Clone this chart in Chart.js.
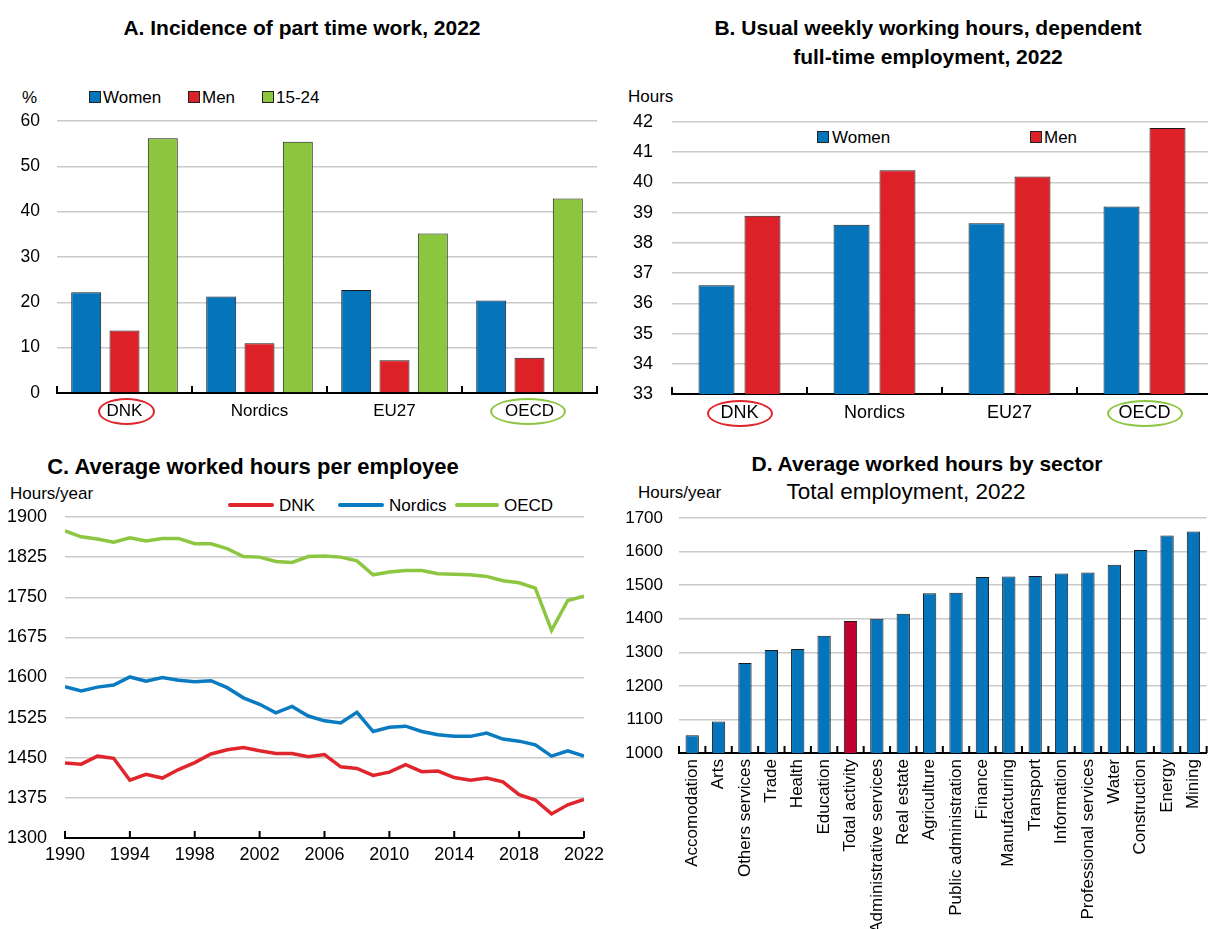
<!DOCTYPE html>
<html>
<head>
<meta charset="utf-8">
<script src="https://cdn.jsdelivr.net/npm/chart.js@4.4.1/dist/chart.umd.min.js"></script>
<style>
html, body { margin:0; padding:0; background:#fff; width:1208px; height:929px; overflow:hidden; }
body { position:relative; font-family:"Liberation Sans", Arial, sans-serif; color:#000; }
canvas { position:absolute; }
.t { position:absolute; white-space:nowrap; line-height:1; }
.c { transform:translate(-50%,-50%); }
.m { transform:translateY(-50%); }
.titulo { font-weight:bold; font-size:21px; }
.unidad { font-size:17px; }
.ley { font-size:17px; }
.cuadro { position:absolute; width:10px; height:10px; border:1px solid #222; }
.linea { position:absolute; height:4px; border-radius:2px; }
.elipse { position:absolute; border-radius:50%; border:2.5px solid; box-sizing:border-box; }
</style>
</head>
<body>

<!-- textos panel A -->
<div class="t c titulo" style="left:302px; top:27px;">A. Incidence of part time work, 2022</div>
<div class="t m unidad" style="left:22px; top:97px;">%</div>
<div class="cuadro" style="left:89px; top:91px; background:#0474bb;"></div>
<div class="t m ley" style="left:103px; top:97px;">Women</div>
<div class="cuadro" style="left:188px; top:91px; background:#dd2129;"></div>
<div class="t m ley" style="left:202px; top:97px;">Men</div>
<div class="cuadro" style="left:262px; top:91px; background:#8cc63f;"></div>
<div class="t m ley" style="left:276px; top:97px;">15-24</div>
<div class="elipse" style="left:98px; top:398px; width:57px; height:27px; border-color:#e0262d;"></div>
<div class="elipse" style="left:490px; top:398px; width:76px; height:27px; border-color:#8dc641;"></div>

<!-- textos panel B -->
<div class="t c titulo" style="left:928px; top:27px;">B. Usual weekly working hours, dependent</div>
<div class="t c titulo" style="left:928px; top:56px;">full-time employment, 2022</div>
<div class="t m unidad" style="left:628px; top:96px;">Hours</div>
<div class="cuadro" style="left:817px; top:131px; background:#0474bb;"></div>
<div class="t m ley" style="left:832px; top:137px;">Women</div>
<div class="cuadro" style="left:1030px; top:131px; background:#dd2129;"></div>
<div class="t m ley" style="left:1044px; top:137px;">Men</div>
<div class="elipse" style="left:707px; top:400px; width:66px; height:27px; border-color:#e0262d;"></div>
<div class="elipse" style="left:1107px; top:400px; width:76px; height:27px; border-color:#8dc641;"></div>

<!-- textos panel C -->
<div class="t c titulo" style="left:253px; top:467px; font-size:22px;">C. Average worked hours per employee</div>
<div class="t m unidad" style="left:10px; top:493px;">Hours/year</div>
<div class="linea" style="left:228px; top:503px; width:46px; background:#e0262d;"></div>
<div class="t m ley" style="left:279px; top:505px;">DNK</div>
<div class="linea" style="left:338px; top:503px; width:46px; background:#0a7bc1;"></div>
<div class="t m ley" style="left:389px; top:505px;">Nordics</div>
<div class="linea" style="left:455px; top:503px; width:44px; background:#8dc641;"></div>
<div class="t m ley" style="left:504px; top:505px;">OECD</div>

<!-- textos panel D -->
<div class="t c titulo" style="left:927px; top:463px;">D. Average worked hours by sector</div>
<div class="t c" style="left:906px; top:492px; font-size:22.5px;">Total employment, 2022</div>
<div class="t m unidad" style="left:638px; top:492px;">Hours/year</div>

<canvas id="gA" width="600" height="350" style="left:0; top:80px;"></canvas>
<canvas id="gB" width="620" height="350" style="left:600px; top:80px;"></canvas>
<canvas id="gC" width="610" height="400" style="left:0; top:480px;"></canvas>
<canvas id="gD" width="620" height="449" style="left:600px; top:480px;"></canvas>

<script>
// DATOS
const paises = ['DNK', 'Nordics', 'EU27', 'OECD'];
const parcialMujeres = [22.2, 21.3, 22.7, 20.4];
const parcialHombres = [13.8, 11.0, 7.2, 7.8];
const parcialJovenes = [56.2, 55.4, 35.2, 42.9];

const horasMujeres = [36.6, 38.6, 38.65, 39.2];
const horasHombres = [38.9, 40.4, 40.2, 41.8];

const anios = [1990,1991,1992,1993,1994,1995,1996,1997,1998,1999,2000,2001,2002,2003,2004,2005,2006,
               2007,2008,2009,2010,2011,2012,2013,2014,2015,2016,2017,2018,2019,2020,2021,2022];
const horasDNK = [1440,1438,1453,1449,1408,1419,1412,1428,1441,1457,1465,1469,1463,1458,1458,1452,1456,
                  1433,1430,1417,1423,1437,1424,1425,1413,1408,1412,1405,1381,1371,1345,1362,1372];
const horasNordicos = [1583,1575,1582,1586,1601,1593,1600,1595,1592,1594,1581,1562,1550,1534,1546,1528,1519,
                       1515,1535,1499,1507,1509,1499,1493,1490,1490,1496,1485,1481,1474,1453,1463,1453];
const horasOCDE = [1874,1863,1859,1853,1861,1855,1860,1860,1850,1850,1841,1826,1825,1817,1815,1826,1827,
                   1825,1818,1792,1797,1800,1800,1794,1793,1792,1789,1781,1777,1767,1688,1744,1752];

const sectores = ['Accomodation','Arts','Others services','Trade','Health','Education','Total activity',
                  'Administrative services','Real estate','Agriculture','Public administration','Finance',
                  'Manufacturing','Transport','Information','Professional services','Water','Construction',
                  'Energy','Mining'];
const horasSector = [1053,1094,1268,1307,1310,1349,1393,1400,1415,1476,1477,1524,1526,1527,1535,1538,1561,
                     1605,1648,1660];

const azul = '#0474bb', rojo = '#dd2129', verde = '#8cc63f', rojoOscuro = '#c0002d';
const lineaRoja = '#e0262d', lineaAzul = '#0a7bc1', lineaVerde = '#8dc641';
const gris = '#cacaca';

Chart.defaults.font.family = '"Liberation Sans", Arial, sans-serif';
Chart.defaults.color = '#000';
Chart.defaults.animation = false;
Chart.defaults.responsive = false;
Chart.defaults.plugins.legend.display = false;
Chart.defaults.plugins.tooltip.enabled = false;

// ticks pequeños hacia arriba sobre el eje x
const ticksAdentro = {
    id: 'ticksAdentro',
    afterDraw(chart) {
        const x = chart.scales.x, ctx = chart.ctx, y0 = chart.chartArea.bottom;
        let pos = [];
        if (x.type === 'category') {
            const n = x.getLabels().length, w = (x.right - x.left) / n;
            for (let i = 0; i <= n; i++) pos.push(x.left + i * w);
        } else {
            x.ticks.forEach(t => pos.push(x.getPixelForValue(t.value)));
        }
        ctx.save();
        ctx.strokeStyle = '#000'; ctx.lineWidth = 2;
        pos.forEach(p => { ctx.beginPath(); ctx.moveTo(p, y0); ctx.lineTo(p, y0 - 7); ctx.stroke(); });
        ctx.restore();
    }
};

function escalaY(min, max, paso, ancho, pad, tam) {
    return {
        min: min, max: max,
        afterFit: s => { s.width = ancho; },
        border: { display: false },
        grid: { color: gris, lineWidth: 1.5, drawTicks: false },
        ticks: { stepSize: paso, padding: pad, font: { size: tam }, callback: v => String(v) }
    };
}

function escalaX(alto, pad, tam, extra) {
    return Object.assign({
        afterFit: s => { s.height = alto; },
        border: { display: true, color: '#000', width: 2 },
        grid: { display: false, drawTicks: false, tickLength: 0 },
        ticks: { padding: pad, font: { size: tam }, autoSkip: false, maxRotation: 0 }
    }, extra || {});
}

const borde = { borderColor: '#1a1a1a', borderWidth: 1 };

// A
new Chart(document.getElementById('gA'), {
    type: 'bar',
    data: { labels: paises, datasets: [
        Object.assign({ label: 'Women', data: parcialMujeres, backgroundColor: azul }, borde),
        Object.assign({ label: 'Men', data: parcialHombres, backgroundColor: rojo }, borde),
        Object.assign({ label: '15-24', data: parcialJovenes, backgroundColor: verde }, borde)
    ]},
    options: {
        layout: { padding: { left: 0, right: 3, top: 41, bottom: 0 } },
        datasets: { bar: { categoryPercentage: 0.851, barPercentage: 0.783 } },
        scales: { x: escalaX(37, 8, 17), y: escalaY(0, 60, 10, 57, 17, 17.5) }
    },
    plugins: [ticksAdentro]
});

// B
new Chart(document.getElementById('gB'), {
    type: 'bar',
    data: { labels: paises, datasets: [
        Object.assign({ label: 'Women', data: horasMujeres, backgroundColor: azul }, borde),
        Object.assign({ label: 'Men', data: horasHombres, backgroundColor: rojo }, borde)
    ]},
    options: {
        layout: { padding: { left: 0, right: 8, top: 42, bottom: 0 } },
        datasets: { bar: { categoryPercentage: 0.681, barPercentage: 0.783 } },
        scales: { x: escalaX(36, 8, 18), y: escalaY(33, 42, 1, 72, 19, 18) }
    },
    plugins: [ticksAdentro]
});

// C
const serie = (vals) => vals.map((v, i) => ({ x: anios[i], y: v }));
new Chart(document.getElementById('gC'), {
    type: 'line',
    data: { datasets: [
        { label: 'DNK', data: serie(horasDNK), borderColor: lineaRoja },
        { label: 'Nordics', data: serie(horasNordicos), borderColor: lineaAzul },
        { label: 'OECD', data: serie(horasOCDE), borderColor: lineaVerde }
    ]},
    options: {
        layout: { padding: { left: 0, right: 20, top: 37, bottom: 0 } },
        datasets: { line: { borderWidth: 3.5, pointRadius: 0, tension: 0, fill: false } },
        scales: {
            x: escalaX(42, 6, 18, { type: 'linear', min: 1990, max: 2022 }),
            y: escalaY(1300, 1900, 75, 65, 18, 18)
        }
    },
    plugins: [ticksAdentro]
});
Chart.getChart('gC').options.scales.x.ticks.stepSize = 4;
Chart.getChart('gC').options.scales.x.ticks.callback = v => String(v);
Chart.getChart('gC').update();

// D
new Chart(document.getElementById('gD'), {
    type: 'bar',
    data: { labels: sectores, datasets: [
        Object.assign({ label: 'Hours', data: horasSector,
            backgroundColor: sectores.map(s => s === 'Total activity' ? rojoOscuro : azul) }, borde)
    ]},
    options: {
        layout: { padding: { left: 0, right: 6, top: 38, bottom: 0 } },
        datasets: { bar: { categoryPercentage: 1, barPercentage: 0.505 } },
        scales: {
            x: escalaX(176, 6, 17, {}),
            y: escalaY(1000, 1700, 100, 79, 16, 17)
        }
    },
    plugins: [ticksAdentro]
});
Chart.getChart('gD').options.scales.x.ticks.minRotation = 90;
Chart.getChart('gD').options.scales.x.ticks.maxRotation = 90;
Chart.getChart('gD').update();
</script>
</body>
</html>
